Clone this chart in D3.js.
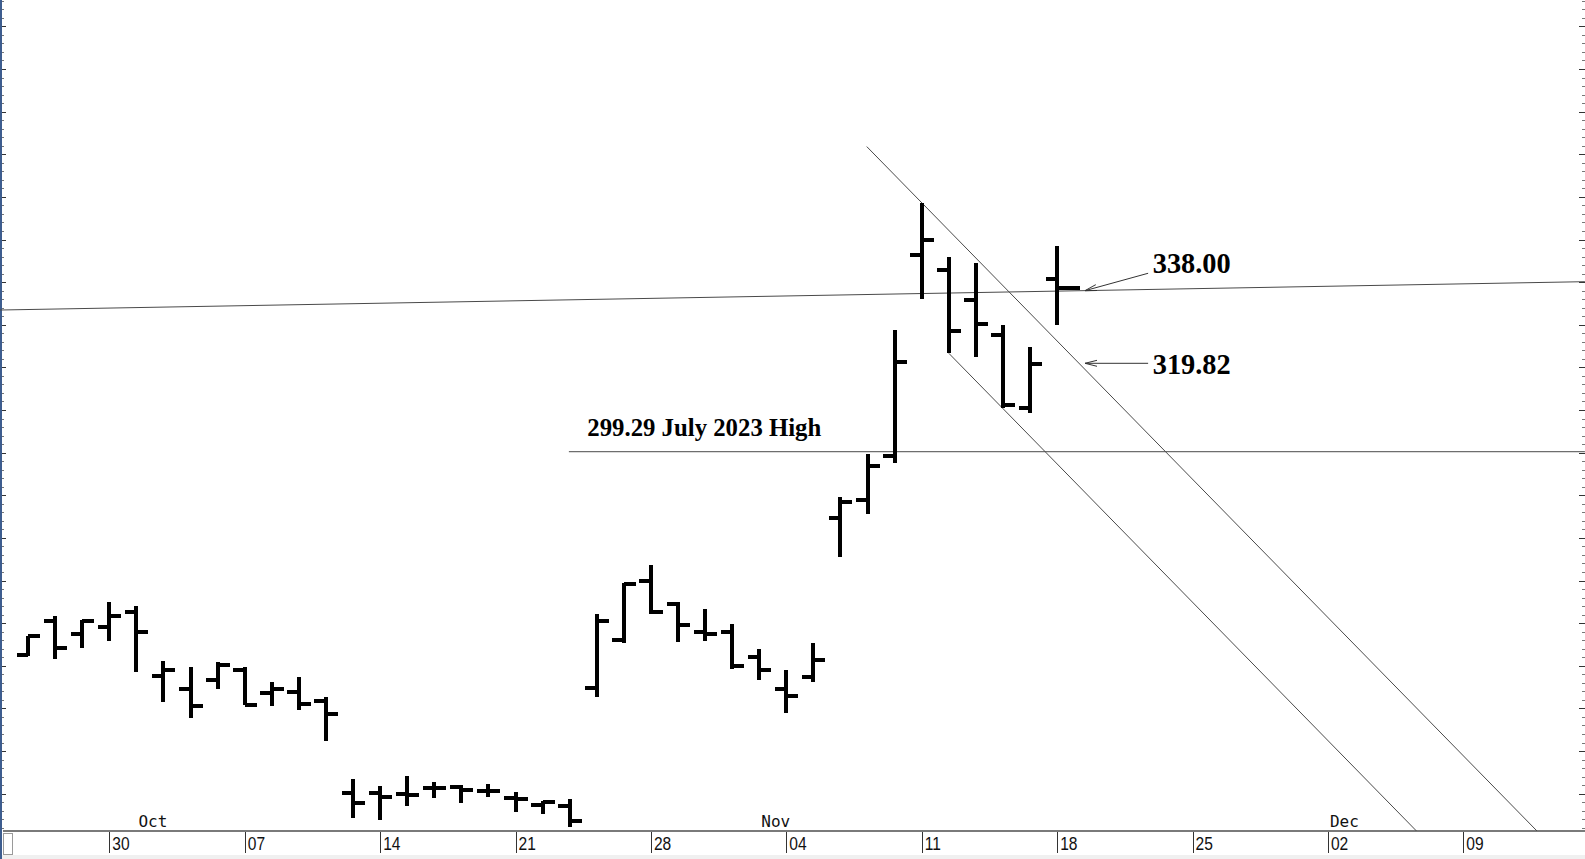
<!DOCTYPE html>
<html><head><meta charset="utf-8">
<script src="https://cdn.jsdelivr.net/npm/d3@7"></script>
<style>
html,body{margin:0;padding:0;background:#fff;overflow:hidden}
svg{display:block}
</style></head><body>
<svg id="chart" width="1585" height="859"></svg>
<script>
// ---------- data ----------
const barDates = ["2024-09-25","2024-09-26","2024-09-27","2024-09-30","2024-10-01","2024-10-02","2024-10-03","2024-10-04","2024-10-07","2024-10-08","2024-10-09","2024-10-10","2024-10-11","2024-10-14","2024-10-15","2024-10-16","2024-10-17","2024-10-18","2024-10-21","2024-10-22","2024-10-23","2024-10-24","2024-10-25","2024-10-28","2024-10-29","2024-10-30","2024-10-31","2024-11-01","2024-11-04","2024-11-05","2024-11-06","2024-11-07","2024-11-08","2024-11-11","2024-11-12","2024-11-13","2024-11-14","2024-11-15","2024-11-18"];
const opens  = [252.54,260.60,257.38,259.04,262.67,247.55,244.48,246.69,249.00,243.56,243.82,241.81,220.13,220.13,220.01,221.40,221.59,220.71,218.90,217.31,217.13,244.68,256.01,270.00,264.51,258.04,257.99,252.04,244.56,247.34,284.67,288.89,299.14,346.30,342.74,335.85,327.69,310.57,340.73];
const highs  = [257.05,261.75,260.70,264.86,263.98,251.16,249.79,250.96,249.83,246.21,247.43,242.79,223.34,221.91,224.26,222.82,222.08,222.28,220.48,218.22,218.72,262.12,269.49,273.54,264.98,263.35,259.75,254.00,248.90,255.28,289.59,299.75,328.71,358.64,345.84,344.60,329.98,324.68,348.55];
const lows   = [252.28,251.53,254.12,255.77,248.53,241.50,237.81,244.58,240.70,240.56,239.51,232.34,214.38,213.74,217.12,218.93,217.90,219.23,215.73,215.26,212.11,242.65,255.32,262.24,255.51,255.82,249.25,246.63,238.88,246.21,275.62,285.52,297.66,336.00,323.31,322.50,310.37,309.22,330.01];
const closes = [257.02,254.22,260.46,261.63,258.02,249.02,240.66,250.08,240.83,244.50,241.05,238.77,217.80,219.16,219.57,221.33,220.89,220.70,218.85,217.97,213.65,260.48,269.19,262.51,259.52,257.55,249.85,248.98,242.84,251.44,288.53,296.91,321.22,350.00,328.49,330.24,311.18,320.72,338.74];

const tickDates  = ["2024-09-30","2024-10-07","2024-10-14","2024-10-21","2024-10-28","2024-11-04","2024-11-11","2024-11-18","2024-11-25","2024-12-02","2024-12-09"];
const tickLabels = ["30","07","14","21","28","04","11","18","25","02","09"];
const monthDates  = ["2024-10-01","2024-11-01","2024-12-02"];
const monthLabels = ["Oct","Nov","Dec"];

// trend lines as [session index, price] pairs
const risingLine   = [[-1.04, 333.46], [57.49, 340.11]];
const upperChannel = [[30.97, 371.80], [55.72, 211.24]];
const lowerChannel = [[34.00, 323.31], [51.27, 211.24]];
const julyHighLine = [[19.97, 300.22], [57.49, 300.22]];
const julyHighText = "299.29 July 2023 High";
const julyTextPos  = [20.65, 303.85];

const labelTexts   = ["338.00", "319.82"];
const labelPos     = [[41.53, 342.08], [41.53, 318.45]];
const arrowFrom    = [[41.36, 342.08], [41.36, 320.96]];
const arrowTo      = [[39.03, 338.00], [39.03, 320.96]];
const closeMarker  = [[38.0, 338.74], [38.85, 338.74]];

// ---------- layout ----------
const W = 1585, H = 859;
const axisY = 831;
const svg = d3.select("#chart");

const parse = d3.utcParse("%Y-%m-%d");
const sessions = d3.utcDay.range(parse("2024-09-25"), parse("2025-01-01"))
  .filter(d => d.getUTCDay() !== 0 && d.getUTCDay() !== 6);
const idxOf = s => { const t = +parse(s); return sessions.findIndex(d => +d === t); };

const x = d3.scaleLinear().domain([-1.0377, 57.493]).range([0, W]);
const y = d3.scaleLinear().domain([211.24, 406.19]).range([axisY, 0]);

// bottom light strip
svg.append("rect").attr("x", 0).attr("y", 855).attr("width", W).attr("height", 4).attr("fill", "#f0f0f0");

// left/right price scale ticks
const minorVals = d3.range(212, 407, 2).filter(v => v % 10 !== 0);
const majorVals = d3.range(220, 407, 10);
const leftG = svg.append("g").attr("transform", "translate(2,0)");
leftG.append("g").call(d3.axisRight(y).tickValues(minorVals).tickSize(2).tickFormat(""))
  .call(g => g.select(".domain").remove())
  .call(g => g.selectAll("line").attr("stroke", "#777").attr("shape-rendering", "crispEdges"));
leftG.append("g").call(d3.axisRight(y).tickValues(majorVals).tickSize(4).tickFormat(""))
  .call(g => g.select(".domain").remove())
  .call(g => g.selectAll("line").attr("stroke", "#333").attr("shape-rendering", "crispEdges"));

const rightG = svg.append("g").attr("transform", `translate(${W},0)`);
rightG.append("g").call(d3.axisLeft(y).tickValues(minorVals).tickSize(3).tickFormat(""))
  .call(g => g.select(".domain").remove())
  .call(g => g.selectAll("line").attr("stroke", "#777").attr("shape-rendering", "crispEdges"));
rightG.append("g").call(d3.axisLeft(y).tickValues(majorVals).tickSize(6).tickFormat(""))
  .call(g => g.select(".domain").remove())
  .call(g => g.selectAll("line").attr("stroke", "#333").attr("shape-rendering", "crispEdges"));

// left blue border
svg.append("rect").attr("x", 0).attr("y", 0).attr("width", 2).attr("height", H).attr("fill", "#3d5d8f");

// bottom axis
const tickIdx = tickDates.map(idxOf);
const xAxis = d3.axisBottom(x).tickValues(tickIdx).tickSize(22)
  .tickFormat((d, i) => tickLabels[i]);
const axG = svg.append("g").attr("transform", `translate(0,${axisY})`).call(xAxis);
axG.select(".domain").remove();
axG.selectAll("line").attr("stroke", "#333").attr("stroke-width", 1).attr("shape-rendering", "crispEdges");
axG.selectAll("text")
  .attr("text-anchor", "start").attr("x", 0).attr("y", 0).attr("dy", 0)
  .attr("transform", "translate(2.5,18.5) scale(0.82,1)")
  .attr("fill", "#111").attr("font-family", "Liberation Sans, Arial, sans-serif").attr("font-size", 19);

// axis line
svg.append("line").attr("x1", 3).attr("x2", W).attr("y1", axisY).attr("y2", axisY)
  .attr("stroke", "#7a7a7a").attr("stroke-width", 2);

// small square at bottom-left
svg.append("rect").attr("x", 3.5).attr("y", 833.5).attr("width", 9).attr("height", 21)
  .attr("fill", "#fff").attr("stroke", "#9a9a9a").attr("stroke-width", 1);

// month labels
svg.append("g").selectAll("text").data(monthLabels).join("text")
  .attr("x", (d, i) => x(idxOf(monthDates[i])) + 2)
  .attr("y", 826.5)
  .attr("font-family", "DejaVu Sans Mono, monospace").attr("font-size", 16)
  .attr("fill", "#111")
  .text(d => d);

// reference lines
const line = d3.line().x(d => x(d[0])).y(d => y(d[1]));
const refG = svg.append("g").attr("fill", "none").attr("stroke", "#4a4a4a").attr("stroke-width", 1);
[risingLine, upperChannel, lowerChannel, julyHighLine].forEach(l => refG.append("path").attr("d", line(l)));

// OHLC bars
const bars = barDates.map((d, i) => ({ i: idxOf(d), o: opens[i], h: highs[i], l: lows[i], c: closes[i] }));
const bG = svg.append("g").attr("stroke", "#000").attr("shape-rendering", "crispEdges");
bG.selectAll("line.v").data(bars).join("line").attr("class", "v")
  .attr("x1", d => x(d.i)).attr("x2", d => x(d.i))
  .attr("y1", d => y(d.h)).attr("y2", d => y(d.l)).attr("stroke-width", 4);
bG.selectAll("line.o").data(bars).join("line").attr("class", "o")
  .attr("x1", d => x(d.i) - 11.5).attr("x2", d => x(d.i))
  .attr("y1", d => y(d.o)).attr("y2", d => y(d.o)).attr("stroke-width", 4);
bG.selectAll("line.c").data(bars).join("line").attr("class", "c")
  .attr("x1", d => x(d.i)).attr("x2", d => x(d.i) + 12)
  .attr("y1", d => y(d.c)).attr("y2", d => y(d.c)).attr("stroke-width", 4);
bG.append("path").attr("d", line(closeMarker)).attr("stroke-width", 4).attr("fill", "none");

// annotations
svg.append("text").attr("x", x(julyTextPos[0])).attr("y", y(julyTextPos[1]))
  .attr("font-family", "Liberation Serif, Times New Roman, serif").attr("font-weight", "bold")
  .attr("font-size", 25).attr("textLength", 234).attr("lengthAdjust", "spacingAndGlyphs")
  .attr("fill", "#000").text(julyHighText);

svg.append("g").selectAll("text").data(labelTexts).join("text")
  .attr("x", (d, i) => x(labelPos[i][0])).attr("y", (d, i) => y(labelPos[i][1]))
  .attr("font-family", "Liberation Serif, Times New Roman, serif").attr("font-weight", "bold")
  .attr("font-size", 30).attr("textLength", 78).attr("lengthAdjust", "spacingAndGlyphs")
  .attr("fill", "#000").text(d => d);

const defs = svg.append("defs");
defs.append("marker").attr("id", "arr").attr("viewBox", "0 0 12 8").attr("refX", 12).attr("refY", 4)
  .attr("markerWidth", 12).attr("markerHeight", 8).attr("markerUnits", "userSpaceOnUse").attr("orient", "auto")
  .append("path").attr("d", "M0,1 L12,4 L0,7").attr("fill", "none").attr("stroke", "#333").attr("stroke-width", 1);
svg.append("g").selectAll("line").data(arrowFrom).join("line")
  .attr("x1", d => x(d[0])).attr("y1", d => y(d[1]))
  .attr("x2", (d, i) => x(arrowTo[i][0])).attr("y2", (d, i) => y(arrowTo[i][1]))
  .attr("stroke", "#333").attr("stroke-width", 1).attr("marker-end", "url(#arr)");
</script>
</body></html>
